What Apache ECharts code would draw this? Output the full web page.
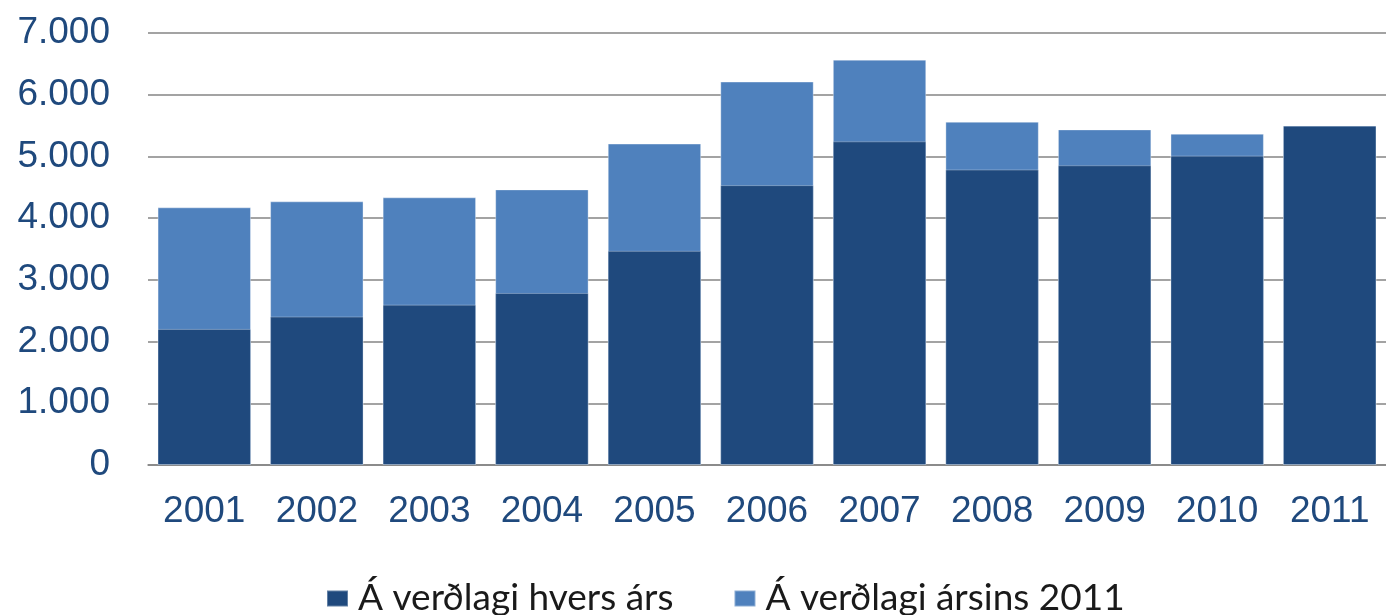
<!DOCTYPE html>
<html>
<head>
<meta charset="utf-8">
<script src="https://cdn.jsdelivr.net/npm/echarts@6/dist/echarts.min.js"></script>
<style>
  html, body { margin: 0; padding: 0; background: #fff; }
  #chart { width: 1386px; height: 615px; }
</style>
</head>
<body>
<div id="chart"></div>
<script>
var years = ['2001', '2002', '2003', '2004', '2005', '2006', '2007', '2008', '2009', '2010', '2011']
// nominal (prices of each year)
var nominal = [2205, 2405, 2598, 2788, 3470, 4535, 5245, 4788, 4857, 5013, 5497]
// at 2011 prices
var real2011 = [4175, 4272, 4337, 4466, 5208, 6213, 6568, 5562, 5438, 5368, 5497]

var nameNominal = 'Á verðlagi hvers árs'
var nameReal = 'Á verðlagi ársins 2011'

function thousands (v) {
  return String(v).replace(/\B(?=(\d{3})+(?!\d))/g, '.')
}

var chart = echarts.init(document.getElementById('chart'), null, { renderer: 'canvas' })

chart.setOption({
  animation: false,
  backgroundColor: '#fff',
  grid: { left: 148, top: 33, width: 1251, height: 432, containLabel: false },
  legend: {
    data: [nameNominal, nameReal],
    left: 321,
    top: 575,
    itemWidth: 21,
    itemHeight: 16,
    itemGap: 60,
    icon: 'rect',
    textStyle: {
      fontFamily: 'Lato',
      fontSize: 37,
      color: '#1a1a1a',
      padding: [0, 0, 0, 5]
    }
  },
  xAxis: {
    type: 'category',
    data: years,
    axisLine: { show: true, lineStyle: { color: '#848484', width: 1.5 } },
    axisTick: { show: false },
    axisLabel: {
      margin: 28,
      fontFamily: 'Liberation Sans',
      fontSize: 37,
      color: '#1F497D'
    }
  },
  yAxis: {
    type: 'value',
    min: 0,
    max: 7000,
    interval: 1000,
    axisLine: { show: false },
    axisTick: { show: false },
    splitLine: { lineStyle: { color: '#848484', width: 1.5 } },
    axisLabel: {
      margin: 38,
      fontFamily: 'Liberation Sans',
      fontSize: 37,
      color: '#1F497D',
      formatter: thousands
    }
  },
  series: [
    {
      name: nameReal,
      type: 'bar',
      data: real2011,
      barWidth: '83%',
      barGap: '-100%',
      itemStyle: { color: '#4F81BD', borderColor: 'rgba(255,255,255,0.35)', borderWidth: 1 }
    },
    {
      name: nameNominal,
      type: 'bar',
      data: nominal,
      barWidth: '83%',
      barGap: '-100%',
      itemStyle: { color: '#1F497D', borderColor: 'rgba(255,255,255,0.3)', borderWidth: 1 }
    }
  ]
})
</script>
</body>
</html>
